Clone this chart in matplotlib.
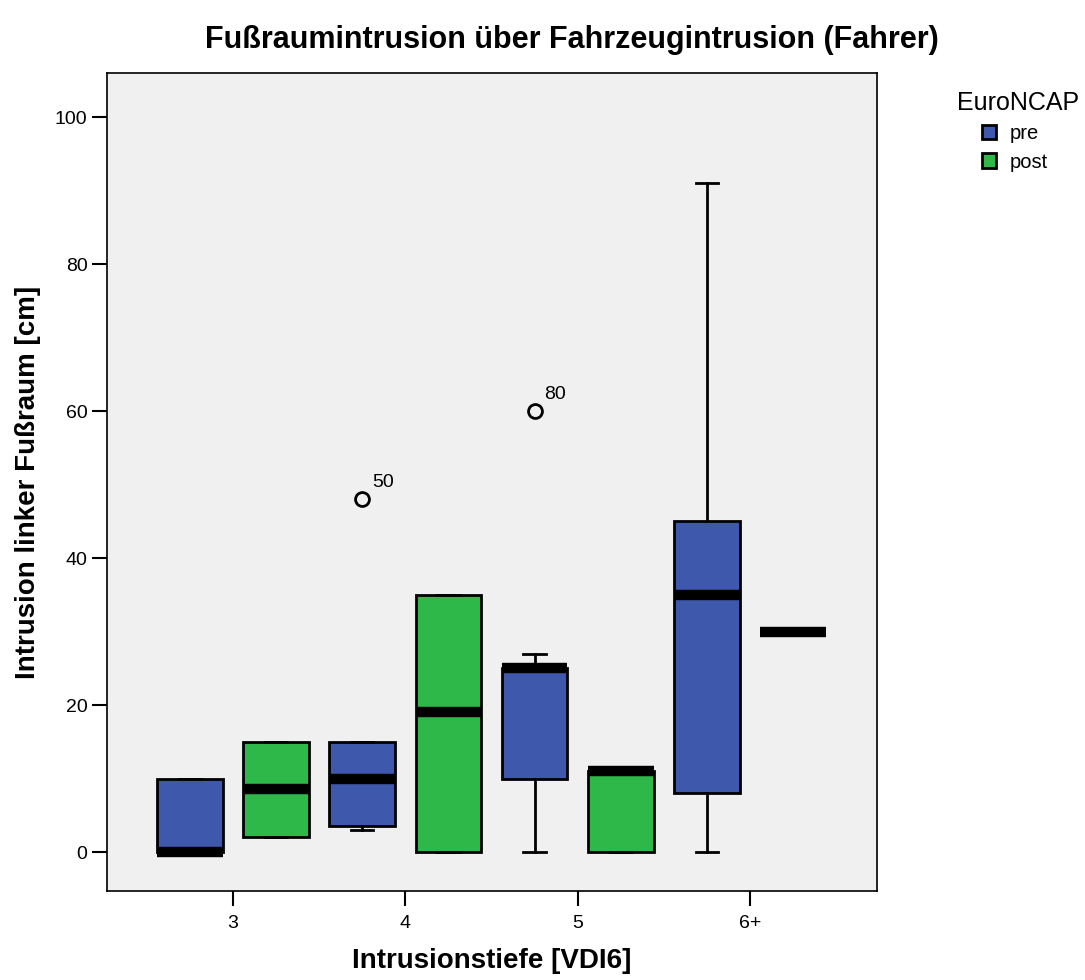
import matplotlib
matplotlib.use("Agg")
import matplotlib.pyplot as plt
from matplotlib.patches import Patch

plt.rcParams['font.family'] = ['Liberation Sans', 'DejaVu Sans']

# data
categories = ["3", "4", "5", "6+"]
groups = ["pre", "post"]
q1 = [[0, 2], [3.5, 0], [10, 0], [8, 30]]
med = [[0, 8.6], [10, 19], [25, 11], [35, 30]]
q3 = [[10, 15], [15, 35], [25, 11], [45, 30]]
whislo = [[0, 2], [3, 0], [0, 0], [0, 30]]
whishi = [[10, 15], [15, 35], [27, 11], [91, 30]]
outliers = [[[], []], [[48], []], [[60], []], [[], []]]
outlier_ids = [[[], []], [["50"], []], [["80"], []], [[], []]]

colors = {"pre": "#3E58AC", "post": "#2EB84A"}
offsets = {"pre": -0.25, "post": 0.25}

fig = plt.figure(figsize=(10.85, 9.8), dpi=100)
ax = fig.add_axes([0.0986, 0.0908, 0.7097, 0.8348])
ax.set_facecolor("#F0F0F0")

for ci, cat in enumerate(categories):
    for gi, g in enumerate(groups):
        stats = [dict(med=med[ci][gi], q1=q1[ci][gi], q3=q3[ci][gi],
                      whislo=whislo[ci][gi], whishi=whishi[ci][gi],
                      fliers=outliers[ci][gi])]
        pos = ci + offsets[g]
        single = q1[ci][gi] == q3[ci][gi] == med[ci][gi]
        ax.bxp(stats, positions=[pos], widths=0.38, capwidths=0.13,
               patch_artist=True, manage_ticks=False,
               boxprops=dict(facecolor=colors[g], edgecolor="black",
                             linewidth=0 if single else 2),
               medianprops=dict(color="black", linewidth=7.5,
                                solid_capstyle="butt"),
               whiskerprops=dict(color="black", linewidth=2),
               capprops=dict(color="black", linewidth=2),
               flierprops=dict(marker="o", markersize=10, markerfacecolor="none",
                               markeredgecolor="black", markeredgewidth=2),
               zorder=3)
        # case number next to the outlier
        for val, lab in zip(outliers[ci][gi], outlier_ids[ci][gi]):
            ax.annotate(lab, (pos, val), xytext=(7, 9), textcoords="offset points",
                        fontsize=14)

ax.set_xlim(-0.73, 3.736)
ax.set_ylim(-5.3, 106)
ax.set_xticks(range(len(categories)))
ax.set_xticklabels(categories)
ax.set_yticks([0, 20, 40, 60, 80, 100])
ax.tick_params(axis="x", length=11, width=1.5, labelsize=14, pad=6)
ax.tick_params(axis="y", length=11, width=1.5, labelsize=14, pad=3)
for s in ax.spines.values():
    s.set_linewidth(1.2)

ax.set_xlabel("Intrusionstiefe [VDI6]", fontsize=20, fontweight="bold", labelpad=12)
ax.set_ylabel("Intrusion linker Fußraum [cm]", fontsize=20, fontweight="bold", labelpad=10)
fig.suptitle("Fußraumintrusion über Fahrzeugintrusion (Fahrer)", fontsize=22,
             fontweight="bold", x=0.527, y=0.959, va="center")

# legend: title placed separately so the entries sit indented under it
fig.text(0.882, 1 - 103 / 980, "EuroNCAP", fontsize=18, va="center", ha="left")
handles = [Patch(facecolor=colors[g], edgecolor="black", linewidth=2, label=g) for g in groups]
fig.legend(handles=handles, loc="upper left", bbox_to_anchor=(0.905, 0.873),
           frameon=False, fontsize=14.5, handlelength=0.7, handleheight=0.7,
           handletextpad=0.7, labelspacing=0.45, borderaxespad=0, borderpad=0)

fig.savefig("out.png", dpi=100)
